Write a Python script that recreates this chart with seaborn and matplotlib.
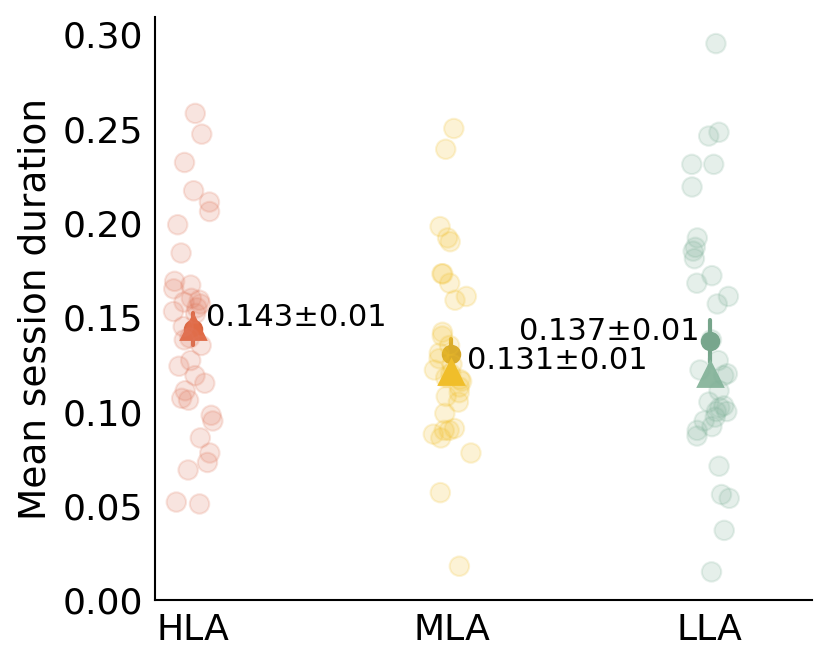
import numpy as np
import pandas as pd
import matplotlib
matplotlib.use("Agg")
import matplotlib.pyplot as plt
import seaborn as sns

# ---------------------------------------------------------------------------
# Data
# ---------------------------------------------------------------------------
groups = ["HLA", "MLA", "LLA"]

hla = [0.258, 0.247, 0.232, 0.217, 0.211, 0.206, 0.199, 0.184, 0.169, 0.167,
       0.165, 0.160, 0.159, 0.158, 0.157, 0.155, 0.153, 0.152, 0.145, 0.139,
       0.138, 0.135, 0.127, 0.124, 0.119, 0.115, 0.111, 0.107, 0.106, 0.098,
       0.095, 0.086, 0.078, 0.073, 0.069, 0.052, 0.051]
mla = [0.250, 0.239, 0.198, 0.192, 0.190, 0.173, 0.173, 0.168, 0.161, 0.159,
       0.142, 0.140, 0.135, 0.131, 0.128, 0.125, 0.122, 0.120, 0.118, 0.117,
       0.116, 0.113, 0.110, 0.108, 0.105, 0.099, 0.091, 0.090, 0.090, 0.088,
       0.086, 0.078, 0.057, 0.018]
lla = [0.295, 0.248, 0.246, 0.231, 0.231, 0.219, 0.192, 0.187, 0.185, 0.181,
       0.172, 0.168, 0.161, 0.157, 0.138, 0.127, 0.122, 0.120, 0.119, 0.111,
       0.105, 0.103, 0.102, 0.100, 0.100, 0.097, 0.095, 0.092, 0.090, 0.087,
       0.071, 0.056, 0.054, 0.037, 0.015]

labels = ["0.143±0.01", "0.131±0.01", "0.137±0.01"]

point_colors = ["#E07A5F", "#F2C12E", "#81B29A"]
mean_colors = ["#D9653F", "#D4A62A", "#76A48A"]
median_colors = ["#E06A45", "#F0BE2A", "#8DB8A0"]

df = pd.DataFrame({
    "group": ["HLA"] * len(hla) + ["MLA"] * len(mla) + ["LLA"] * len(lla),
    "value": hla + mla + lla,
})

# ---------------------------------------------------------------------------
# Plot
# ---------------------------------------------------------------------------
sns.set_style("white")
plt.rcParams["text.color"] = "black"
plt.rcParams["axes.labelcolor"] = "black"
plt.rcParams["xtick.color"] = "black"
plt.rcParams["ytick.color"] = "black"

fig = plt.figure(figsize=(8.3, 6.61), dpi=100)
ax = fig.add_axes([0.187, 0.092, 0.791, 0.882])

np.random.seed(3)
sns.stripplot(
    data=df, x="group", y="value", hue="group", order=groups,
    palette=point_colors, jitter=0.08, size=14, alpha=0.2,
    linewidth=1.5, legend=False, ax=ax,
)
for c, e in zip(ax.collections, point_colors):
    c.set_edgecolor(e)

# mean +/- se
sns.pointplot(
    data=df, x="group", y="value", hue="group", order=groups,
    palette=mean_colors, estimator="mean", errorbar="se",
    linestyle="none", markers="o", markersize=12, err_kws={"linewidth": 3},
    legend=False, ax=ax,
)
# median
sns.pointplot(
    data=df, x="group", y="value", hue="group", order=groups,
    palette=median_colors, estimator="median", errorbar=None,
    linestyle="none", markers="^", markersize=17,
    legend=False, ax=ax,
)

means = df.groupby("group")["value"].mean()
ax.text(0.05, means["HLA"] + 0.006, labels[0], fontsize=22, va="center", ha="left")
ax.text(1.06, means["MLA"] - 0.003, labels[1], fontsize=22, va="center", ha="left")
ax.text(1.96, means["LLA"] + 0.005, labels[2], fontsize=22, va="center", ha="right")

ax.set_xlim(-0.147, 2.395)
ax.set_ylim(0, 0.309)
ax.set_yticks([0.0, 0.05, 0.10, 0.15, 0.20, 0.25, 0.30])
ax.set_yticklabels(["0.00", "0.05", "0.10", "0.15", "0.20", "0.25", "0.30"])
ax.set_xlabel("")
ax.set_ylabel("Mean session duration", fontsize=27, labelpad=6)
ax.tick_params(axis="both", labelsize=26, length=0, pad=9)
sns.despine(ax=ax)
for s in ["left", "bottom"]:
    ax.spines[s].set_color("black")
    ax.spines[s].set_linewidth(1.5)

plt.savefig("out.png", dpi=100)
plt.close()
